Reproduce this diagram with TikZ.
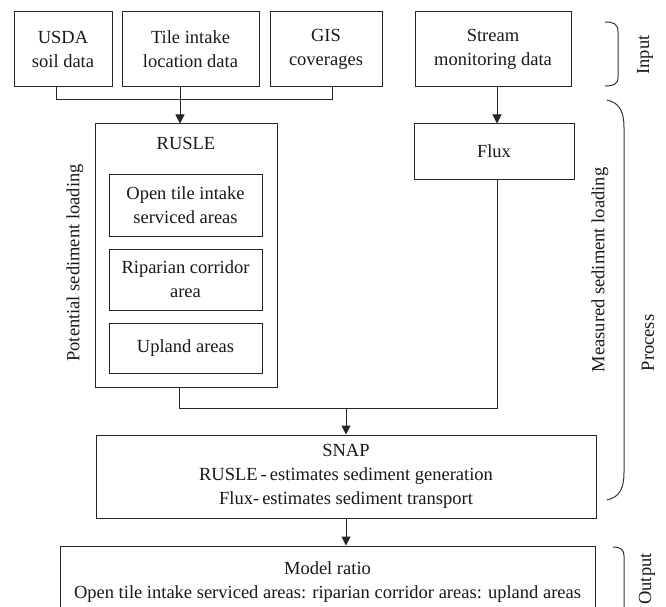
\documentclass[tikz,border=0pt]{standalone}
\usepackage{fontspec}
\setmainfont{Liberation Serif}
\newfontfamily\tnr{Liberation Serif}
\usetikzlibrary{arrows.meta}
\begin{document}
\begin{tikzpicture}[x=1pt,y=-1pt,
  box/.style={draw=black!85, line width=1pt, align=center, inner sep=0pt, text=black!90, font=\tnr\fontsize{18.5}{24}\selectfont},
  txt/.style={align=center, inner sep=0pt, text=black!90, font=\tnr\fontsize{18.5}{24}\selectfont},
  conn/.style={draw=black!85, line width=1pt},
  arr/.style={conn, -{Triangle[width=9pt,length=9pt]}},
  bracket/.style={draw=black!80, line width=1pt}]
\clip (0,0) rectangle (666,607);
\fill[white] (0,0) rectangle (666,607);
% input boxes
\node[box, minimum width=98pt, minimum height=75pt] (usda) at (63,49.5) {USDA\\soil data};
\node[box, minimum width=137pt, minimum height=75pt] (tile) at (190.5,49.5) {Tile intake\\location data};
\node[box, minimum width=112pt, minimum height=75pt] (gis) at (326,49.5) {GIS\\coverages};
\node[box, minimum width=156pt, minimum height=75pt] (stream) at (493,49.5) {Stream\\monitoring data};
% RUSLE
\node[box, minimum width=182pt, minimum height=263pt] (rusle) at (186,255.5) {};
\node[txt] (rusletitle) at (186,143) {RUSLE};
\node[box, minimum width=153pt, minimum height=62pt] (open) at (185.5,205) {Open tile intake\\serviced areas};
\node[box, minimum width=153pt, minimum height=61pt] (rip) at (185.5,279.5) {Riparian corridor\\area};
\node[box, minimum width=153pt, minimum height=50pt] (upl) at (185.5,348) {Upland areas};
% Flux
\node[box, minimum width=160pt, minimum height=55pt] (flux) at (494,151.5) {Flux};
% SNAP
\node[box, minimum width=500pt, minimum height=83pt] (snap) at (346,476.5) {SNAP\\RUSLE\,-\,estimates sediment generation\\Flux-\,estimates sediment transport};
% Model
\node[box, minimum width=535pt, minimum height=72pt] (model) at (327.5,582) {Model ratio\\Open tile intake serviced areas: riparian corridor areas: upland areas};
% side labels
\node[txt, rotate=90] (pot) at (75,263) {Potential sediment loading};
\node[txt, rotate=90] (meas) at (600,270) {Measured sediment loading};
\node[txt, rotate=90] (inp) at (645,55) {Input};
\node[txt, rotate=90] (proc) at (648,343) {Process};
\node[txt, rotate=90] (outp) at (647,579) {Output};
% connectors
\coordinate (j1) at (56,100);
\coordinate (j2) at (332,100);
\coordinate (ta) at (180,100);
\draw[conn] (usda.south -| j1) -- (j1) -- (j2) -- (gis.south -| j2);
\draw[arr] (tile.south -| ta) -- (rusle.north -| ta);
\coordinate (fx) at (497,0);
\draw[arr] (stream.south -| fx) -- (flux.north -| fx);
\coordinate (r1) at (179,408);
\coordinate (f1) at (497,408);
\coordinate (s1) at (346,408);
\draw[conn] (rusle.south -| r1) -- (r1) -- (f1) -- (flux.south -| f1);
\draw[arr] (s1) -- (snap.north -| s1);
\draw[arr] (snap.south -| s1) -- (model.north -| s1);
% brackets
\draw[bracket] (605,22) .. controls (614,22) and (618,24) .. (618,32) -- (618,77) .. controls (618,84) and (614,86) .. (605,86);
\draw[bracket] (607,100) .. controls (620,103) and (624,112) .. (624,128) -- (624,472) .. controls (624,488) and (620,497) .. (607,500);
\draw[bracket] (613,547) .. controls (621,547) and (624,550) .. (624,556) -- (624,620);
\end{tikzpicture}
\end{document}
